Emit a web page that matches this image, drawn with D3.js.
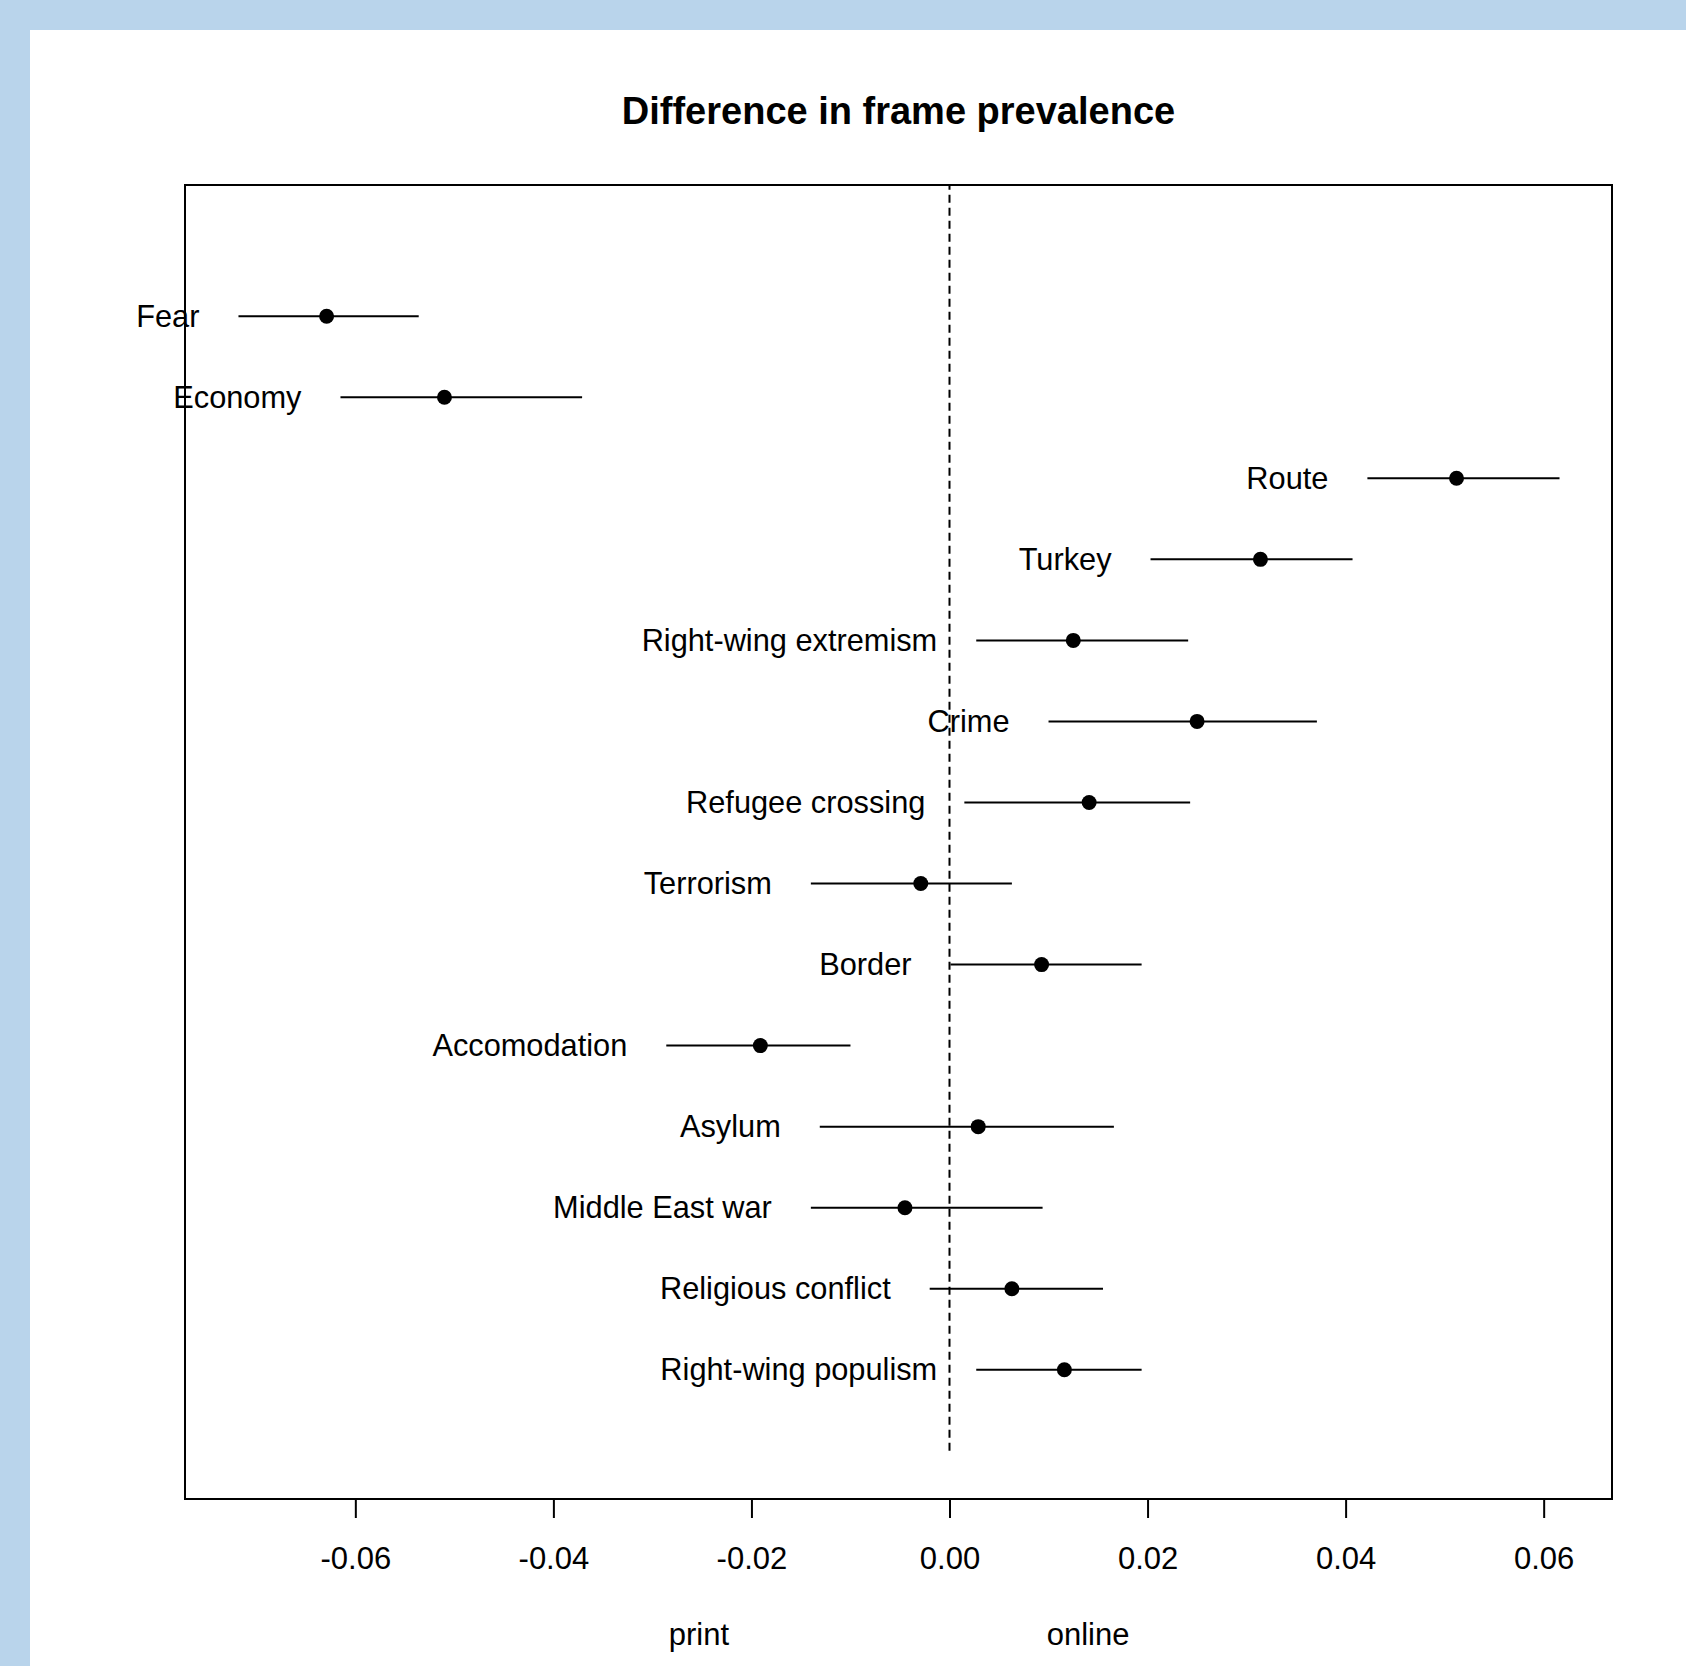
<!DOCTYPE html>
<html>
<head>
<meta charset="utf-8">
<script src="https://cdn.jsdelivr.net/npm/d3@7"></script>
<style>
  html, body { margin: 0; padding: 0; background: #b9d4eb; }
  svg { display: block; }
  text { font-family: "Liberation Sans", Arial, sans-serif; fill: #000; }
</style>
</head>
<body>
<script>
// ---- data ----
const categories = ["Fear", "Economy", "Route", "Turkey", "Right-wing extremism", "Crime",
  "Refugee crossing", "Terrorism", "Border", "Accomodation", "Asylum", "Middle East war",
  "Religious conflict", "Right-wing populism"];
const estimates = [-0.0629, -0.0510, 0.0512, 0.0314, 0.0125, 0.0250, 0.0141, -0.0029,
  0.0093, -0.0191, 0.0029, -0.0045, 0.0063, 0.0116];
const lowerCI = [-0.0718, -0.0615, 0.0422, 0.0203, 0.0027, 0.0100, 0.0015, -0.0140,
  0.0001, -0.0286, -0.0131, -0.0140, -0.0020, 0.0027];
const upperCI = [-0.0536, -0.0371, 0.0616, 0.0407, 0.0241, 0.0371, 0.0243, 0.0063,
  0.0194, -0.0100, 0.0166, 0.0094, 0.0155, 0.0194];
const tickValues = [-0.06, -0.04, -0.02, 0.00, 0.02, 0.04, 0.06];
const tickLabels = ["-0.06", "-0.04", "-0.02", "0.00", "0.02", "0.04", "0.06"];
const sideLabels = ["print", "online"];
const sidePositions = [-0.0253, 0.0140];
const title = "Difference in frame prevalence";

// ---- layout ----
const W = 1686, H = 1666;
const box = { left: 185, right: 1612, top: 185, bottom: 1499 };

const svg = d3.select("body").append("svg").attr("width", W).attr("height", H);
svg.append("rect").attr("x", 0).attr("y", 0).attr("width", W).attr("height", H).attr("fill", "#b9d4eb");
svg.append("rect").attr("x", 30).attr("y", 30).attr("width", W - 30).attr("height", H - 30).attr("fill", "#ffffff");

const n = categories.length;
const x = d3.scaleLinear().domain([-0.0772, 0.0669]).range([box.left, box.right]);
const y = d3.scaleLinear().domain([-0.6, 15.6]).range([box.bottom + 0.5, box.top + 1.5]);

const rows = categories.map((c, i) => ({
  name: c, est: estimates[i], lo: lowerCI[i], hi: upperCI[i], pos: n - i
}));

// dashed zero line
svg.append("line")
  .attr("x1", x(0)).attr("x2", x(0))
  .attr("y1", y(0)).attr("y2", box.top)
  .attr("stroke", "#000").attr("stroke-width", 2)
  .attr("stroke-dasharray", "8,5");

// CI lines
svg.append("g").selectAll("line").data(rows).join("line")
  .attr("x1", d => x(d.lo)).attr("x2", d => x(d.hi))
  .attr("y1", d => y(d.pos)).attr("y2", d => y(d.pos))
  .attr("stroke", "#000").attr("stroke-width", 2);

// points
svg.append("g").selectAll("circle").data(rows).join("circle")
  .attr("cx", d => x(d.est)).attr("cy", d => y(d.pos))
  .attr("r", 7.5).attr("fill", "#000");

// labels
svg.append("g").selectAll("text").data(rows).join("text")
  .attr("x", d => x(d.lo) - 39)
  .attr("y", d => y(d.pos) + 10.5)
  .attr("text-anchor", "end")
  .style("font-size", "30.75px")
  .text(d => d.name);

// box
svg.append("rect")
  .attr("x", box.left).attr("y", box.top)
  .attr("width", box.right - box.left).attr("height", box.bottom - box.top)
  .attr("fill", "none").attr("stroke", "#000").attr("stroke-width", 2);

// x axis
const axis = d3.axisBottom(x).tickValues(tickValues)
  .tickFormat((d, i) => tickLabels[i]).tickSize(19).tickPadding(0);
const ag = svg.append("g").attr("transform", `translate(0,${box.bottom})`).call(axis);
ag.select(".domain").remove();
ag.selectAll(".tick line").attr("stroke", "#000").attr("stroke-width", 2);
ag.selectAll(".tick text")
  .attr("y", 70).attr("dy", null)
  .style("font-size", "31px")
  .style("font-family", "'Liberation Sans', Arial, sans-serif")
  .attr("fill", "#000");

// print / online
svg.append("g").selectAll("text").data(sideLabels).join("text")
  .attr("x", (d, i) => x(sidePositions[i]))
  .attr("y", 1645)
  .attr("text-anchor", "middle")
  .style("font-size", "31px")
  .text(d => d);

// title
svg.append("text")
  .attr("x", (box.left + box.right) / 2)
  .attr("y", 123.5)
  .attr("text-anchor", "middle")
  .style("font-size", "38px")
  .style("font-weight", "bold")
  .text(title);
</script>
</body>
</html>
